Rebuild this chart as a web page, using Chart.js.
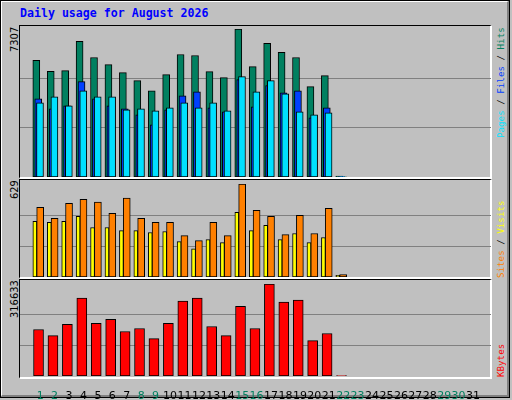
<!DOCTYPE html>
<html><head><meta charset="utf-8">
<script src="https://cdn.jsdelivr.net/npm/chart.js@4"></script>
<style>
body{margin:0;width:512px;height:400px;overflow:hidden;background:#c0c0c0;font-family:"DejaVu Sans",sans-serif}
#frame{position:absolute;left:0;top:0;width:505px;height:393px;border-left:2px solid #fff;border-top:2px solid #fff;border-right:3px solid #808080;border-bottom:3px solid #808080;outline:1px solid #000;outline-offset:-1px}
.panel{position:absolute;left:19px;width:470px;border-left:1px solid #000;border-top:1px solid #000;border-right:2px solid #fff;border-bottom:2px solid #fff}
canvas{position:absolute}
.rot{position:absolute;transform-origin:0 0;transform:rotate(-90deg);white-space:nowrap;font-size:11px;line-height:11px}
.mono{font-family:'DejaVu Sans Mono',monospace;font-size:9.2px;line-height:11px}
#title{position:absolute;left:20px;top:6px;font:bold 11.6px "DejaVu Sans Mono",monospace;color:#0000ff}
</style></head><body>
<div id="frame"></div>
<div id="title">Daily usage for August 2026</div>
<div class="panel" style="top:25px;height:151px"></div>
<div class="panel" style="top:179px;height:97px"></div>
<div class="panel" style="top:279px;height:97px"></div>
<div class="rot" style="left:9px;top:52px;font-family:'DejaVu Sans Condensed','DejaVu Sans'">7307</div>
<div class="rot" style="left:9px;top:199px;font-family:'DejaVu Sans Condensed','DejaVu Sans'">629</div>
<div class="rot" style="left:9px;top:318px;font-family:'DejaVu Sans Condensed','DejaVu Sans'">316633</div>
<div class="rot mono" style="left:495px;top:138px"><span style="color:#00e0ff">Pages</span> / <span style="color:#0040ff">Files</span> / <span style="color:#008060">Hits</span></div>
<div class="rot mono" style="left:495px;top:278px"><span style="color:#ff8000">Sites</span> / <span style="color:#ffff00">Visits</span></div>
<div class="rot mono" style="left:495px;top:377px;color:#ff0000">KBytes</div>
<canvas id="c1" style="left:20px;top:29px"></canvas>
<canvas id="c2" style="left:20px;top:184px"></canvas>
<canvas id="c3" style="left:20px;top:284px"></canvas>
<script>
const days=Array.from({length:31},(_,i)=>i+1);
const weekendDays=[1,2,8,9,15,16,22,23,29,30];
const hits=[5766,5219,5254,6695,5900,5552,5154,4757,4260,5055,6049,6000,5204,4906,7307,5453,6596,6149,5900,4459,5005,40];
const files=[3862,3365,3514,4707,3862,3514,3365,3067,2570,3315,4011,4210,3415,3216,4806,3465,4508,4160,4260,2918,3415,20];
const pages=[3663,3962,3514,4260,3962,3962,3315,3365,3266,3415,3663,3415,3663,3266,4956,4210,4757,4111,3216,3067,3166,10];
const visits=[376,369,376,410,335,335,314,314,301,308,239,191,253,232,438,314,349,253,294,232,267,12];
const sites=[472,397,499,526,506,431,533,397,369,369,280,246,369,280,629,451,410,287,417,294,465,16];
const kbytes=[160055,139181,177457,267922,180937,194855,153096,163534,128743,180937,257484,267922,170498,139181,240087,163534,316633,254004,260963,121784,146140,1500];
const maxTop=7307,maxMid=629,maxBot=316633;
const W=471, PX=14.9;
function pts(arr,offPx){return arr.map((v,i)=>({x:i+1+offPx/PX,y:v}));}
function ds(arr,off,color,th){return {data:pts(arr,off),backgroundColor:color,borderColor:'#000',borderWidth:1,barThickness:th,grouped:false,borderSkipped:false};}
function make(id,h,max,datasets,withX){
  const c=document.getElementById(id);c.width=W;c.height=h;c.style.width=W+'px';c.style.height=h+'px';
  return new Chart(c,{type:'bar',data:{datasets},options:{responsive:false,animation:false,devicePixelRatio:1,
    layout:{padding:0,autoPadding:false},plugins:{legend:{display:false},tooltip:{enabled:false}},
    scales:{
      x:{type:'linear',min:0.128,max:31.72,display:withX,grid:{display:false},border:{display:false},
        afterBuildTicks:a=>{a.ticks=days.map(v=>({value:v}));},
        afterFit:a=>{a.height=withX?h-92:0;},
        ticks:{padding:6,autoSkip:false,maxRotation:0,font:{size:11,family:'DejaVu Sans'},color:ctx=>weekendDays.includes(ctx.tick.value)?'#008060':'#000',callback:v=>String(v)}},
      y:{min:0,max:max,display:true,border:{display:false},grid:{color:'#808080',lineWidth:1,drawTicks:false},
        afterBuildTicks:a=>{a.ticks=[{value:max/3},{value:2*max/3}];},
        afterFit:a=>{a.width=0;},ticks:{display:false}}
    }}});
}
// Chart.js paints the first dataset on top, so list front-most first
make('c1',148,maxTop,[ds(pages,-0.2,'#00e0ff',7),ds(files,-2,'#0040ff',7),ds(hits,-4,'#008060',7)],false);
make('c2',93,maxMid,[ds(sites,0,'#ff8000',7),ds(visits,-5.5,'#ffff00',4)],false);
make('c3',120,maxBot,[ds(kbytes,-1.7,'#ff0000',10)],true);
</script></body></html>
